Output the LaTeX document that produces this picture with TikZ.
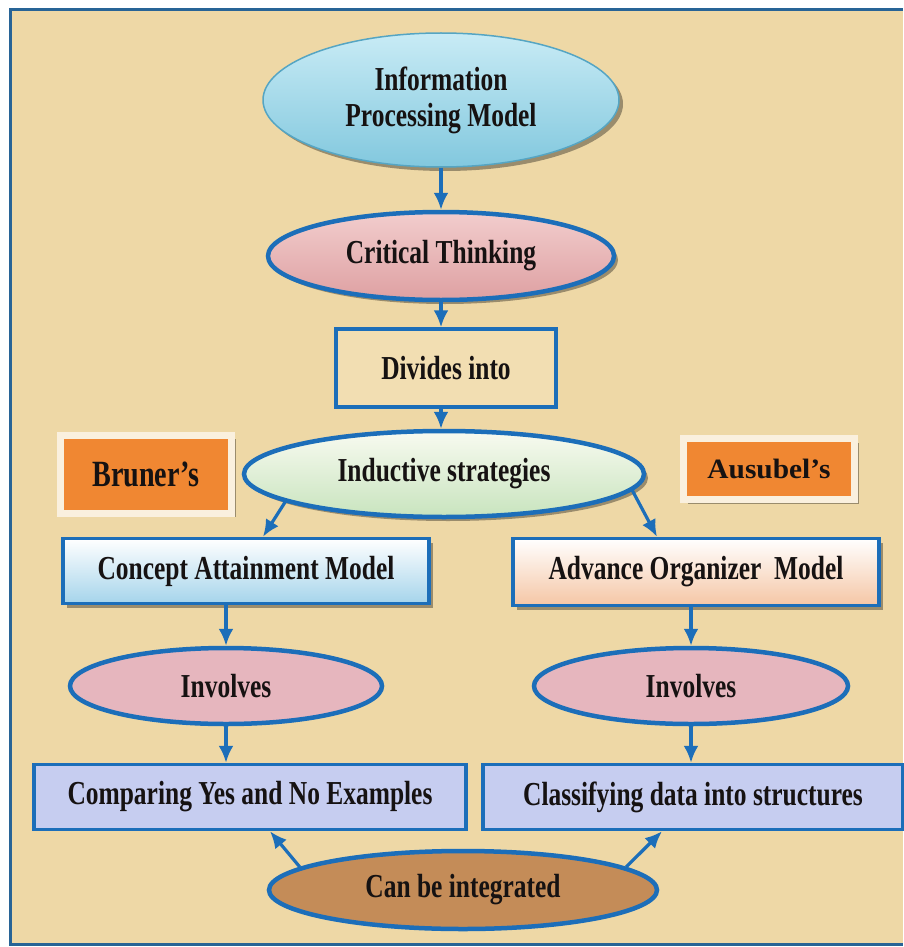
\documentclass[tikz,border=0pt]{standalone}
\usepackage{fontspec}
\setmainfont{Liberation Serif}[FakeStretch=0.76,Ligatures=TeX]
\newfontfamily\widefont{Liberation Serif}[FakeStretch=1.05,Ligatures=TeX]
\usetikzlibrary{shapes.geometric,shadows,arrows.meta}
\definecolor{parch}{RGB}{238,216,166}
\definecolor{parchlight}{RGB}{242,222,178}
\definecolor{frameblue}{RGB}{40,100,150}
\definecolor{lineblue}{RGB}{28,110,185}
\definecolor{ipmtop}{RGB}{200,235,245}
\definecolor{ipmbot}{RGB}{130,200,222}
\definecolor{ipmline}{RGB}{85,165,195}
\definecolor{pinktop}{RGB}{242,205,205}
\definecolor{pinkbot}{RGB}{222,160,162}
\definecolor{invpink}{RGB}{230,182,190}
\definecolor{greentop}{RGB}{248,250,240}
\definecolor{greenbot}{RGB}{200,228,190}
\definecolor{orangebox}{RGB}{240,135,50}
\definecolor{creamframe}{RGB}{250,240,222}
\definecolor{camblue}{RGB}{165,212,235}
\definecolor{aompeach}{RGB}{245,198,165}
\definecolor{lavender}{RGB}{198,205,240}
\definecolor{cork}{RGB}{196,140,88}
\definecolor{inktext}{RGB}{22,18,18}
\tikzset{
  txt/.style={font=\bfseries\fontsize{33.5}{36}\selectfont, text=inktext, align=center, inner sep=0pt},
  oval/.style={ellipse, txt},
  box/.style={rectangle, txt},
  blueedge/.style={draw=lineblue, line width=4.5pt},
  shad/.style={drop shadow={shadow xshift=4pt, shadow yshift=-4pt, fill=black, opacity=0.35}},
  arr/.style={draw=lineblue, line width=3.2pt, -{Latex[length=17pt,width=15pt]}},
  tag/.style={rectangle, fill=orangebox, draw=creamframe, line width=7pt, inner sep=0pt,
              text=inktext, shad}
}
\begin{document}
\begin{tikzpicture}[x=1pt,y=-1pt]
\useasboundingbox (0,0) rectangle (903,947);
\fill[white] (0,0) rectangle (903,947);
\fill[parch] (10,10) rectangle (903,944);
\draw[frameblue, line width=3pt] (903,10) -- (10,10) -- (10,944) -- (903,944);

\node[oval, minimum width=356pt, minimum height=134pt, top color=ipmtop, bottom color=ipmbot,
      draw=ipmline, line width=1.5pt, shad] (ipm) at (441,100) {Information\\Processing Model};
\node[oval, minimum width=346pt, minimum height=88pt, top color=pinktop, bottom color=pinkbot,
      blueedge, shad] (ct) at (441,256) {Critical Thinking};
\node[box, minimum width=220pt, minimum height=78pt, fill=parchlight, draw=lineblue,
      line width=3.5pt] (div) at (446,368) {Divides into};
\node[oval, minimum width=400pt, minimum height=86pt, top color=greentop, bottom color=greenbot,
      blueedge, shad] (ind) at (444,474) {Inductive strategies};
\node[tag, minimum width=171pt, minimum height=78pt,
      font=\bfseries\fontsize{37}{39}\selectfont] (bru) at (146,474) {Bruner’s};
\node[tag, minimum width=171pt, minimum height=61pt,
      font=\widefont\bfseries\fontsize{28}{30}\selectfont] (aus) at (769,469) {Ausubel’s};
\node[box, minimum width=366pt, minimum height=65pt, top color=white, bottom color=camblue,
      draw=lineblue, line width=3.5pt, shad] (cam) at (246,571) {Concept Attainment Model};
\node[box, minimum width=366pt, minimum height=67pt, top color=white, bottom color=aompeach,
      draw=lineblue, line width=3.5pt, shad] (aom) at (696,572) {Advance Organizer~ Model};
\node[oval, minimum width=312pt, minimum height=76pt, fill=invpink, blueedge] (inv1) at (226,686) {Involves};
\node[oval, minimum width=314pt, minimum height=76pt, fill=invpink, blueedge] (inv2) at (691,686) {Involves};
\node[box, minimum width=432pt, minimum height=65pt, fill=lavender, draw=lineblue,
      line width=3.5pt] (cmp) at (250,797) {Comparing Yes and No Examples};
\node[box, minimum width=420pt, minimum height=65pt, fill=lavender, draw=lineblue,
      line width=3.5pt] (cls) at (693,797) {Classifying data into structures};
\node[oval, minimum width=388pt, minimum height=78pt, fill=cork, blueedge] (cbi) at (463,890) {Can be integrated};

\draw[arr] (ipm.south) -- (ct.north);
\draw[arr] (ct.south) -- (ct.south |- div.north);
\draw[arr] (ct.south |- div.south) -- (ct.south |- ind.north);
\draw[arr] (ind.190) -- ([xshift=17pt]cam.north);
\draw[arr] (ind.355) -- ([xshift=-39pt]aom.north);
\draw[arr] (inv1.north |- cam.south) -- (inv1.north);
\draw[arr] (inv2.north |- aom.south) -- (inv2.north);
\draw[arr] (inv1.south) -- (inv1.south |- cmp.north);
\draw[arr] (inv2.south) -- (inv2.south |- cls.north);
\draw[arr] (cbi.172) -- ([xshift=20pt]cmp.south);
\draw[arr] (cbi.8) -- ([xshift=-31pt]cls.south);
\end{tikzpicture}
\end{document}
